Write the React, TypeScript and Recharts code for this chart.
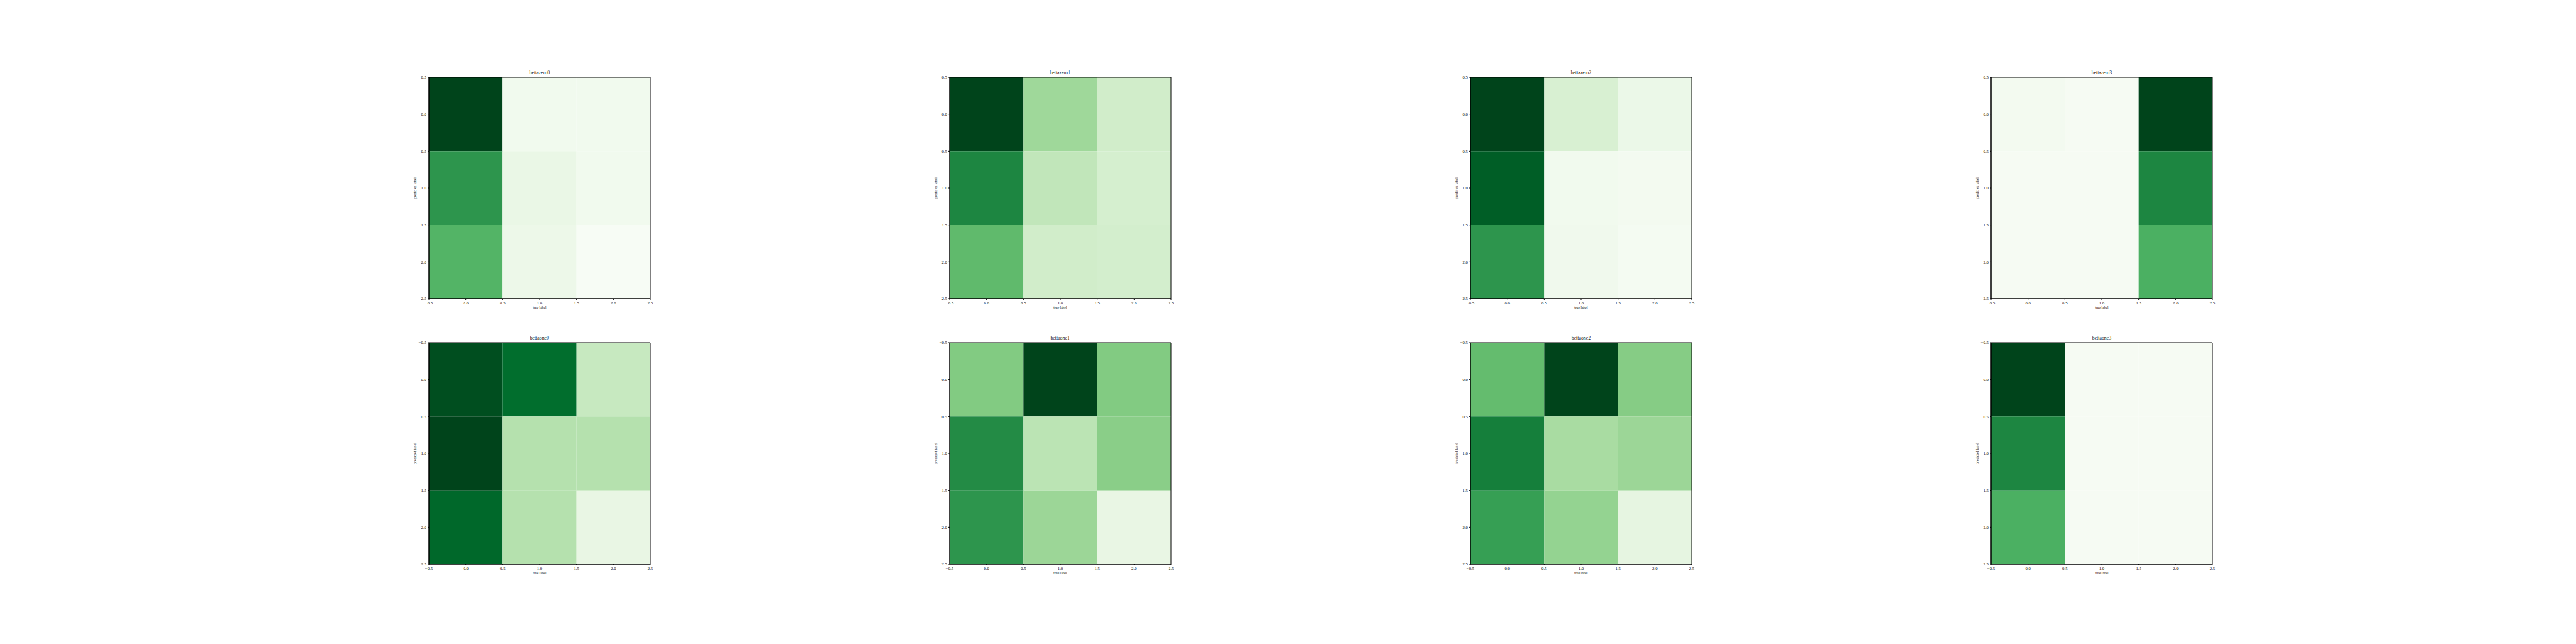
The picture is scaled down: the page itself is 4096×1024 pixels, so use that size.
import React from "react";
import { ScatterChart, Scatter, XAxis, YAxis, ReferenceArea } from "recharts";

const FONT = "'Liberation Serif', 'DejaVu Serif', serif";

const cellIndex = [0, 1, 2];
const tickValues = [-0.5, 0, 0.5, 1, 1.5, 2, 2.5];

const titles = [
  "bettazero0",
  "bettazero1",
  "bettazero2",
  "bettazero3",
  "bettaone0",
  "bettaone1",
  "bettaone2",
  "bettaone3",
];

// cell intensities, rows = predicted label, columns = true label
const bettazero0 = [
  [100, 4, 4],
  [71, 9, 4],
  [58, 7, 0],
];
const bettazero1 = [
  [100, 38, 21],
  [77, 27, 19],
  [55, 21, 20],
];
const bettazero2 = [
  [100, 18, 8],
  [92, 4, 3],
  [71, 5, 2],
];
const bettazero3 = [
  [3, 1, 100],
  [1, 1, 77],
  [1, 1, 60],
];
const bettaone0 = [
  [97, 87, 25],
  [100, 31, 31],
  [89, 31, 10],
];
const bettaone1 = [
  [46, 100, 46],
  [75, 29, 44],
  [71, 39, 10],
];
const bettaone2 = [
  [54, 100, 45],
  [80, 35, 39],
  [67, 41, 12],
];
const bettaone3 = [
  [100, 1, 1],
  [77, 1, 1],
  [60, 1, 1],
];

const matrices = [
  bettazero0,
  bettazero1,
  bettazero2,
  bettazero3,
  bettaone0,
  bettaone1,
  bettaone2,
  bettaone3,
];

// matplotlib "Greens"
const greens = [
  "#f7fcf5",
  "#e5f5e0",
  "#c7e9c0",
  "#a1d99b",
  "#74c476",
  "#41ab5d",
  "#238b45",
  "#006d2c",
  "#00441b",
];

function hex(c: string) {
  return [1, 3, 5].map((i) => parseInt(c.slice(i, i + 2), 16));
}

function greenAt(t: number) {
  const p = Math.max(0, Math.min(1, t)) * (greens.length - 1);
  const i = Math.min(Math.floor(p), greens.length - 2);
  const f = p - i;
  const a = hex(greens[i]);
  const b = hex(greens[i + 1]);
  const rgb = a.map((v, k) => Math.round(v + (b[k] - v) * f));
  return `rgb(${rgb[0]},${rgb[1]},${rgb[2]})`;
}

const fmt = (v: number) =>
  v < 0 ? "\u2212" + Math.abs(v).toFixed(1) : v.toFixed(1);

const PLOT = 352;
const plotLefts = [681.8, 1509.6, 2337.9, 3165.9];
const plotTops = [122.8, 544.6];

function Panel({
  title,
  matrix,
  left,
  top,
}: {
  title: string;
  matrix: number[][];
  left: number;
  top: number;
}) {
  const max = Math.max(...matrix.flat());
  const points = matrix.flatMap((row, r) =>
    row.map((v, c) => ({ x: cellIndex[c], y: cellIndex[r], v }))
  );
  return (
    <>
      <div
        style={{
          position: "absolute",
          left,
          top: top - 11,
          width: PLOT,
          textAlign: "center",
          fontSize: 7.8,
          lineHeight: "8px",
          fontFamily: FONT,
          color: "#111",
          whiteSpace: "nowrap",
        }}
      >
        {title}
      </div>
      <div style={{ position: "absolute", left: left - 60, top: top - 20 }}>
        <ScatterChart
          width={432}
          height={412}
          margin={{ top: 20, right: 20, bottom: 13, left: 16 }}
        >
          <XAxis
            type="number"
            dataKey="x"
            domain={[-0.5, 2.5]}
            ticks={tickValues}
            interval={0}
            allowDataOverflow
            tickFormatter={fmt}
            tickSize={2}
            tickMargin={2}
            height={27}
            stroke="#000"
            tick={{ fontSize: 6.8, fill: "#111", fontFamily: FONT }}
            label={{
              value: "true label",
              position: "center",
              fontSize: 5.7,
              fill: "#111",
              fontFamily: FONT,
            }}
          />
          <YAxis
            type="number"
            dataKey="y"
            domain={[-0.5, 2.5]}
            ticks={tickValues}
            interval={0}
            reversed
            allowDataOverflow
            tickFormatter={fmt}
            tickSize={2}
            tickMargin={2}
            width={44}
            stroke="#000"
            tick={{ fontSize: 6.8, fill: "#111", fontFamily: FONT }}
            label={{
              value: "predicted label",
              angle: -90,
              position: "center",
              fontSize: 5.7,
              fill: "#111",
              fontFamily: FONT,
            }}
          />
          {points.map((p, i) => (
            <ReferenceArea
              key={i}
              x1={p.x - 0.5}
              x2={p.x + 0.5}
              y1={p.y - 0.5}
              y2={p.y + 0.5}
              fill={greenAt(p.v / max)}
              fillOpacity={1}
              stroke="none"
            />
          ))}
          <ReferenceArea
            x1={-0.5}
            x2={2.5}
            y1={-0.5}
            y2={2.5}
            fill="none"
            stroke="#000"
            strokeWidth={1}
          />
          <Scatter data={points} isAnimationActive={false} shape={() => <g />} />
        </ScatterChart>
      </div>
    </>
  );
}

export default function App() {
  return (
    <div
      style={{
        position: "absolute",
        left: 0,
        top: 0,
        width: 4096,
        height: 1024,
        background: "#fff",
        overflow: "hidden",
      }}
    >
      {titles.map((t, i) => (
        <Panel
          key={t}
          title={t}
          matrix={matrices[i]}
          left={plotLefts[i % 4]}
          top={plotTops[Math.floor(i / 4)]}
        />
      ))}
    </div>
  );
}
